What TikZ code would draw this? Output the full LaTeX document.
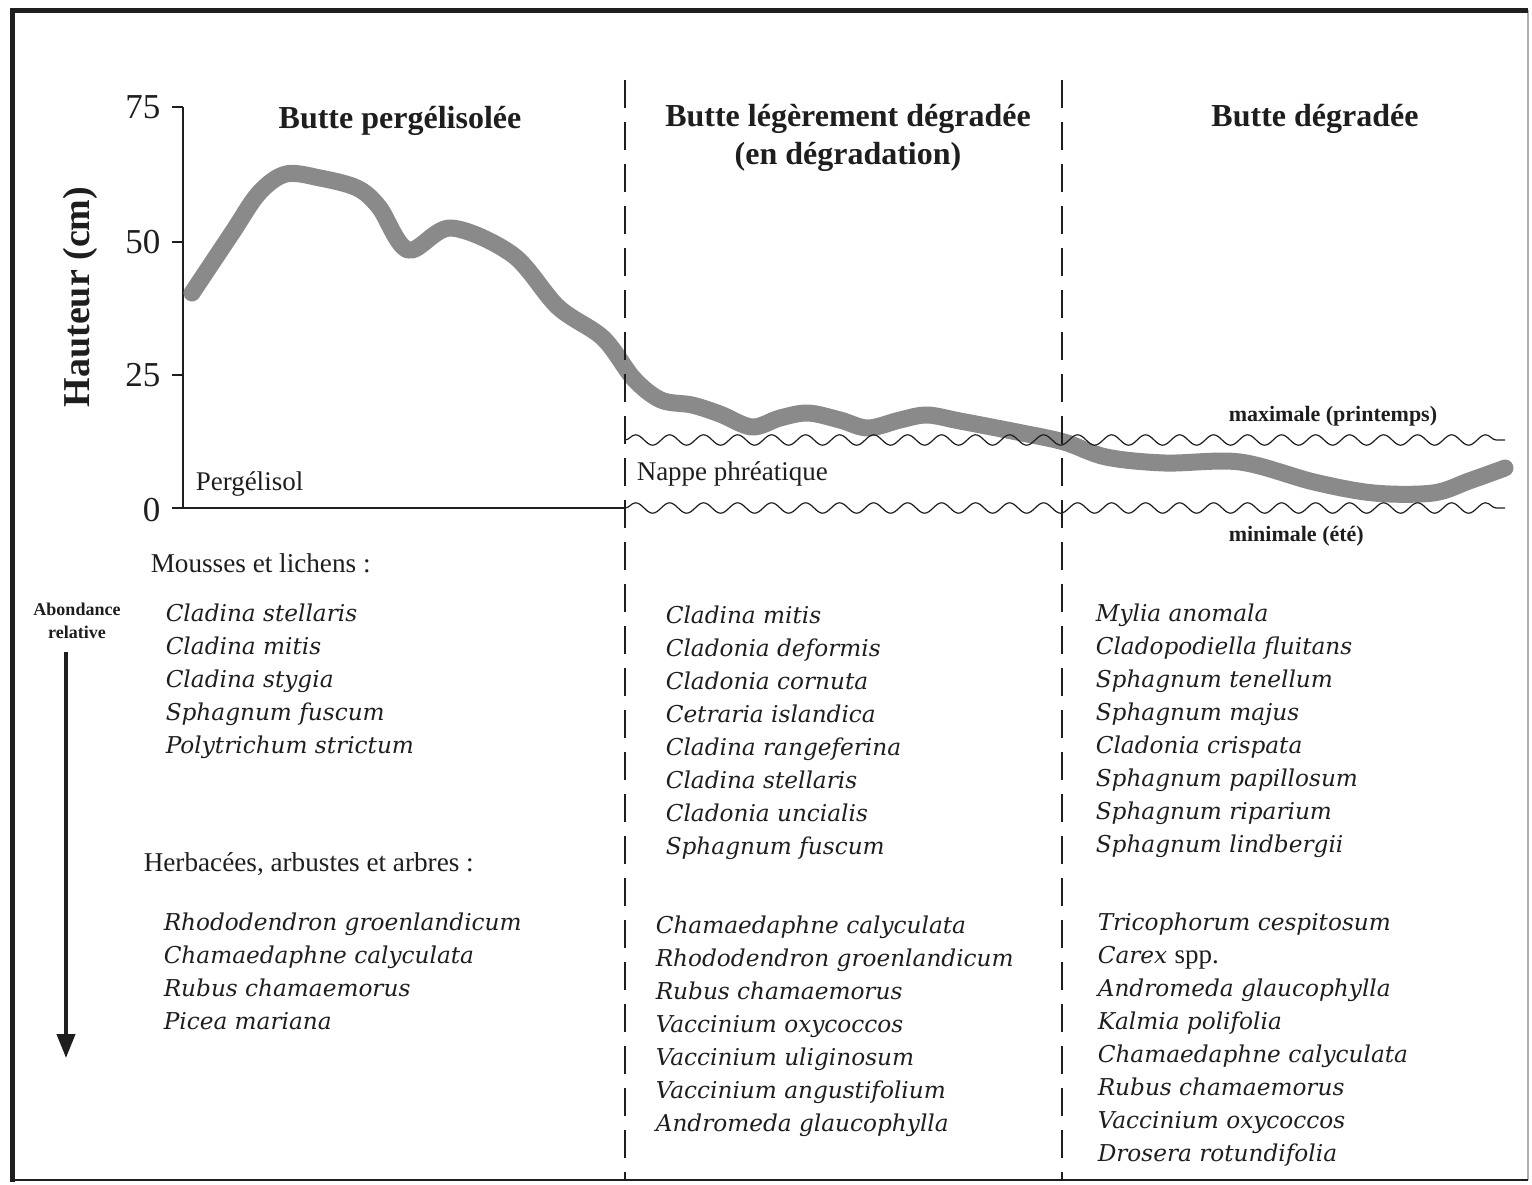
\documentclass[tikz,border=0pt]{standalone}
\usepackage{fontspec}
\setmainfont{Liberation Serif}
\newfontfamily\especefont{DejaVu Serif}
\usetikzlibrary{arrows.meta,decorations.pathmorphing}
\definecolor{ink}{RGB}{30,30,30}
\definecolor{relief}{RGB}{138,138,138}
\tikzset{
  every picture/.style={color=ink, line width=0.75pt},
  titre/.style={font=\fontsize{16}{19}\selectfont\bfseries, align=center, inner sep=0pt},
  axe/.style={font=\fontsize{17.5}{20}\selectfont, inner sep=0pt},
  etiq/.style={font=\fontsize{13.5}{16}\selectfont, inner sep=0pt},
  niveau/.style={font=\fontsize{11}{13}\selectfont\bfseries, inner sep=0pt},
  groupe/.style={font=\fontsize{13.6}{16}\selectfont, inner sep=0pt},
  liste/.style={font=\especefont\itshape\fontsize{11.6}{16.5}\selectfont, align=left, inner sep=0pt, anchor=north west},
  profil/.style={color=relief, line width=8.5pt, line cap=round, line join=round},
  nappe/.style={decorate, decoration={snake, segment length=17pt, amplitude=2.6pt}, line width=0.6pt},
  limite/.style={dash pattern=on 14pt off 7pt, line width=0.7pt},
  fleche/.style={-{Triangle[length=12pt,width=9pt]}, line width=2pt},
}

\begin{document}
\begin{tikzpicture}[x=0.5pt, y=-0.5pt]
  \useasboundingbox (0,0) rectangle (1532,1184);
  % cadre
  \draw[line width=1pt, draw=ink!35] (1528,10) -- (1528,1180);
  \draw[line width=1pt] (12,1180) -- (1528,1180);
  \draw[line width=2.5pt] (10,10) -- (1528,10);
  \draw[line width=2.5pt] (12,9) -- (12,1182);

  % axe des hauteurs
  \draw (183,107) -- (183,508);
  \draw (172,107) -- (183,107);
  \draw (172,242) -- (183,242);
  \draw (172,375) -- (183,375);
  \node[axe, anchor=east] (y75) at (161,107) {75};
  \node[axe, anchor=east] (y50) at (161,242) {50};
  \node[axe, anchor=east] (y25) at (161,375) {25};
  \node[axe, anchor=east] (y0) at (161,510) {0};
  \node[font=\fontsize{19}{22}\selectfont\bfseries, rotate=90, inner sep=0pt] (haut) at (80,297) {Hauteur (cm)};

  % profil de la butte
  \draw[profil] plot[smooth, tension=0.55] coordinates {
    (192,293) (232,233) (259,193) (286,174) (320,178) (357,188) (379,207)
    (408,250) (451,228) (513,255) (558,307) (603,338) (634,379) (661,400)
    (692,405) (720,414) (752,427) (780,418) (808,413) (840,420) (868,428)
    (900,420) (927,415) (960,421) (1017,432) (1064,442) (1106,457)
    (1165,463) (1240,462) (1314,482) (1374,493) (1433,493) (1469,481) (1505,468)};

  % sol et nappe
  \draw[line width=1.1pt] (172,508) -- (625,508);
  \draw[nappe] (625,440) -- (1505,440);
  \draw[nappe] (625,508) -- (1505,508);
  \draw[limite] (625,80) -- (625,1180);
  \draw[limite] (1062,80) -- (1062,1180);

  % titres
  \node[titre, anchor=base] (perg) at (400,128) {Butte pergélisolée};
  \node[titre, anchor=north] (leger) at (848,104) {Butte légèrement dégradée\\(en dégradation)};
  \node[titre, anchor=base] (degr) at (1315,126) {Butte dégradée};

  \node[etiq, anchor=base west] (sol) at (195,490) {Pergélisol};
  \node[etiq, anchor=base west] (napp) at (636,480) {Nappe phréatique};
  \node[niveau, anchor=base west] (nmax) at (1228,421) {maximale (printemps)};
  \node[niveau, anchor=base west] (nmin) at (1228,541) {minimale (été)};

  % abondance relative
  \node[font=\fontsize{9}{11.5}\selectfont\bfseries, align=center, inner sep=0pt] (abond) at (77,621) {Abondance\\relative};
  \coordinate (fl-haut) at (66,652);
  \coordinate (fl-bas) at (66,1058);
  \draw[fleche] (fl-haut) -- (fl-bas);

  % especes
  \node[groupe, anchor=base west] (mousses) at (150,572) {Mousses et lichens :};
  \node[groupe, anchor=base west] (herbes) at (143,871) {Herbacées, arbustes et arbres :};

  \node[liste] (m1) at (165,603) {Cladina stellaris\\Cladina mitis\\Cladina stygia\\Sphagnum fuscum\\Polytrichum strictum};
  \node[liste] (h1) at (163,912) {Rhododendron groenlandicum\\Chamaedaphne calyculata\\Rubus chamaemorus\\Picea mariana};

  \node[liste] (m2) at (665,605) {Cladina mitis\\Cladonia deformis\\Cladonia cornuta\\Cetraria islandica\\Cladina rangeferina\\Cladina stellaris\\Cladonia uncialis\\Sphagnum fuscum};
  \node[liste] (h2) at (655,915) {Chamaedaphne calyculata\\Rhododendron groenlandicum\\Rubus chamaemorus\\Vaccinium oxycoccos\\Vaccinium uliginosum\\Vaccinium angustifolium\\Andromeda glaucophylla};

  \node[liste] (m3) at (1095,603) {Mylia anomala\\Cladopodiella fluitans\\Sphagnum tenellum\\Sphagnum majus\\Cladonia crispata\\Sphagnum papillosum\\Sphagnum riparium\\Sphagnum lindbergii};
  \node[liste] (h3) at (1097,912) {Tricophorum cespitosum\\Carex {\rmfamily\upshape\fontsize{13.5}{16.5}\selectfont spp.}\\Andromeda glaucophylla\\Kalmia polifolia\\Chamaedaphne calyculata\\Rubus chamaemorus\\Vaccinium oxycoccos\\Drosera rotundifolia};
\end{tikzpicture}
\end{document}
